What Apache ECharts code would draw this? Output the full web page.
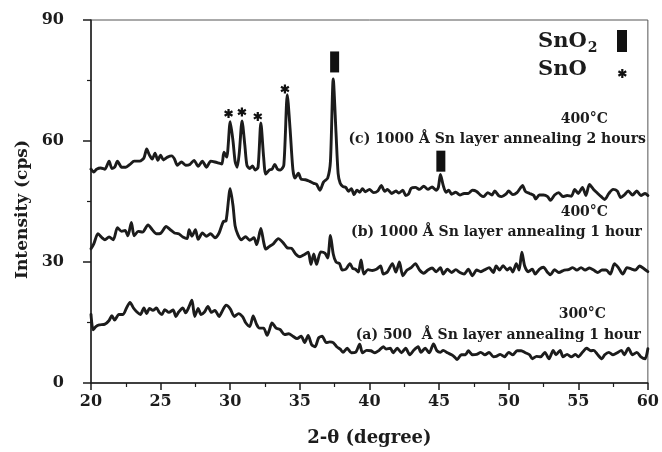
<!DOCTYPE html>
<html>
<head>
<meta charset="utf-8">
<script src="https://cdn.jsdelivr.net/npm/echarts@6/dist/echarts.min.js"></script>
<style>html,body{margin:0;padding:0;background:#fff}#chart{width:662px;height:452px}</style>
</head>
<body>
<div id="chart"></div>
<script>
// ---- data ----
const xTicks = [20, 25, 30, 35, 40, 45, 50, 55, 60];
const yTicks = [0, 30, 60, 90];

const xC = [20.0,20.2,20.4,20.7,21.0,21.3,21.5,21.7,21.9,22.2,22.5,22.8,23.1,23.5,23.8,24.0,24.2,24.4,24.6,24.8,25.0,25.2,25.5,25.8,26.0,26.2,26.5,26.8,27.1,27.4,27.7,28.0,28.3,28.6,28.9,29.2,29.4,29.55,29.75,30.0,30.2,30.35,30.5,30.65,30.85,31.05,31.2,31.4,31.6,31.8,32.0,32.2,32.4,32.55,32.8,33.0,33.2,33.4,33.6,33.85,34.1,34.3,34.5,34.65,34.9,35.1,35.4,35.7,36.0,36.2,36.45,36.7,37.0,37.2,37.4,37.6,37.75,37.9,38.1,38.3,38.5,38.7,38.9,39.1,39.3,39.5,39.7,40.0,40.3,40.6,40.85,41.1,41.3,41.6,41.9,42.1,42.4,42.6,42.8,43.0,43.3,43.6,43.9,44.2,44.5,44.8,44.95,45.1,45.3,45.5,45.7,45.9,46.2,46.5,46.8,47.1,47.4,47.7,48.0,48.2,48.5,48.8,49.0,49.3,49.5,49.8,50.0,50.3,50.6,50.85,51.0,51.2,51.5,51.8,51.95,52.2,52.5,52.8,53.0,53.3,53.6,53.9,54.2,54.5,54.75,55.0,55.3,55.55,55.8,56.1,56.4,56.65,56.9,57.2,57.5,57.8,58.05,58.3,58.6,58.9,59.2,59.5,59.8,60.0];
const yC = [53,52.3,53,53.3,53,55,53.2,53.5,55,53.5,53.5,54.2,55,55,55.8,58,56.5,55.5,57,55.2,56.5,55.3,56,56.3,55.5,54,54.8,54,54.2,55.2,53.7,55,53.5,55,54.8,54.5,54.3,57.2,56,64.8,60,55,53.5,57,65,59,54,53.2,53.8,52.8,53.5,64.5,56,51.8,52.8,53,54.2,53,52.8,54,71.5,63,53,50.8,52,50.5,50.4,50,49.5,49.3,47.8,49.8,50.8,55,75.4,62,52,49.5,48.7,48.5,47.5,48.2,46.7,47.8,47.3,48.2,47.4,48,47.2,47.6,49,47.5,48,47,47.6,47.1,47.8,46.5,46.8,48.3,48.5,48,48.8,48,48.6,47.8,48.5,51.7,49,47.3,47.8,46.8,47.3,46.6,47,47,47.8,47.5,46.5,46.2,47.2,46.6,47.6,46.4,46.2,46.8,47.6,46.7,47.2,48.4,49,47.5,47,46.5,45.6,46.6,46.6,46.2,45.3,46.6,47.2,46.2,46.5,46.3,48,47,48.5,46.5,49.2,48,47,46.2,45.5,47,48,47.6,46,46.6,47.6,46.6,47.6,46.5,47,46.5];

const xB = [20.0,20.2,20.5,20.8,21.0,21.3,21.6,21.9,22.2,22.45,22.65,22.9,23.1,23.4,23.7,24.1,24.4,24.7,25.0,25.4,25.7,26.0,26.3,26.6,26.9,27.05,27.25,27.5,27.7,28.0,28.3,28.6,28.9,29.2,29.5,29.7,30.0,30.2,30.35,30.55,30.8,31.1,31.4,31.7,31.9,32.2,32.4,32.55,32.8,33.1,33.45,33.8,34.1,34.4,34.7,35.0,35.3,35.6,35.8,36.0,36.2,36.5,36.8,37.0,37.2,37.4,37.6,37.85,38.05,38.3,38.6,38.8,39.0,39.2,39.4,39.6,39.9,40.2,40.5,40.8,41.0,41.3,41.65,41.9,42.15,42.4,42.7,43.0,43.3,43.6,43.9,44.2,44.5,44.8,45.1,45.3,45.6,45.9,46.2,46.5,46.8,47.1,47.4,47.7,48.0,48.3,48.6,48.9,49.1,49.35,49.6,49.9,50.1,50.3,50.55,50.75,50.95,51.15,51.4,51.7,51.9,52.2,52.5,52.8,53.0,53.3,53.6,54.0,54.3,54.6,54.9,55.2,55.5,55.8,56.1,56.4,56.7,57.0,57.3,57.6,57.9,58.2,58.5,58.8,59.1,59.4,59.7,60.0];
const yB = [33.3,34.5,37,36,35.5,36.2,35.5,38.5,37.6,37.8,36.5,39.8,36.5,37.6,37.4,39.2,38,37,37.1,38.8,38,37.2,37,36.2,35.8,38,36.4,38,35.6,37.2,36.4,37,36,37.2,40,40.2,48.2,44,39,36.8,35.5,36.3,35.4,36,34.3,38.3,35,33.2,33.8,34.5,35.8,34.8,33.5,33.4,32,31.3,31.8,32.4,29.4,32,29.4,32.5,32.2,31,36.6,32,30,29.6,28,28.2,29.6,28.4,28.2,27.5,30.5,27,28.1,27.9,28.2,29,27,27.6,29.6,27.5,30,26.6,28,28.6,29.6,28,27.2,28,28.5,27.6,28.6,27,28.2,27.4,28.1,27.4,27,28.2,26.6,28,27.6,28.1,28.6,27.4,29,28,29.1,28,28.6,27.5,29.6,28,32.4,29,27.6,28.2,27,28.2,28.7,27.4,26.8,28.1,27.4,28,28.1,28.6,28,28.6,28,28.5,28,27.4,28,28,27,29.6,28.5,27,28.6,28.3,28,29,28.4,27.6];

const xA = [20.0,20.15,20.35,20.6,21.0,21.3,21.5,21.7,22.0,22.3,22.55,22.8,23.05,23.3,23.55,23.8,24.0,24.2,24.45,24.7,24.9,25.1,25.3,25.6,25.9,26.1,26.3,26.6,26.8,27.0,27.25,27.45,27.7,27.9,28.15,28.4,28.65,28.9,29.2,29.45,29.7,30.0,30.3,30.6,30.9,31.1,31.4,31.65,31.9,32.1,32.4,32.65,32.8,33.0,33.3,33.6,33.9,34.2,34.5,34.8,35.1,35.35,35.6,35.85,36.1,36.35,36.6,36.9,37.15,37.4,37.65,37.9,38.1,38.4,38.7,39.0,39.3,39.5,39.8,40.1,40.4,40.7,41.0,41.2,41.5,41.7,42.0,42.3,42.6,42.9,43.2,43.5,43.7,44.0,44.3,44.6,44.85,45.1,45.3,45.6,45.9,46.1,46.3,46.6,46.9,47.1,47.4,47.7,48.0,48.3,48.6,48.9,49.1,49.4,49.7,50.0,50.3,50.6,50.9,51.2,51.5,51.7,52.0,52.3,52.6,52.9,53.2,53.4,53.7,53.9,54.2,54.5,54.8,55.0,55.3,55.6,55.9,56.1,56.4,56.7,56.9,57.2,57.5,57.8,58.1,58.3,58.6,58.9,59.2,59.5,59.8,60.0];
const yA = [17,13.2,14,14.4,14.6,15.5,16.7,15.6,17,17,18.6,20,18.6,17.6,17,18.6,17.2,18.5,18,18.6,17.5,17,18.2,17.5,18.1,16.5,17.6,18.6,17.4,18.6,20.5,16.5,18.5,17,17.6,19,17.5,18,16.5,18,19.3,18.4,16.5,17.2,16.4,15,14,16.6,14.5,13.6,13.6,11.8,13,14.9,13.6,13.2,12,12.2,11.6,11,11.6,10,11.8,9.5,9,11.2,11.6,10,10.2,10,9,8.4,7.6,8.6,7.5,7.6,9.6,7.5,8.1,8,7.5,8.1,9,8.4,8.6,7.5,8.6,7.5,8.6,7,8.2,9,7.6,8.6,7.5,9.7,8,7.6,8.1,7.5,7,6.5,5.8,7,7,8,7,7.1,7.6,7,7.6,6.5,6.6,7.1,6.5,7.6,7,8,8,7.5,7,6,6.6,6.5,7.6,6,8.1,7,8.1,6.5,7.1,6.5,7.1,6.5,7.6,8.6,8,8.1,7,6,7,7.6,7,7.5,8.1,7,8.6,7,7.6,6.5,6,8.5];

// peak markers
const sno2X = [37.5, 45.13];
const sno2Y = [79.6, 55.0];
const snoX = [29.88, 30.84, 31.98, 33.93];
const snoY = [66.8, 67.2, 66.1, 72.9];

const labels = [
  {temp: '400°C', text: '(c) 1000 Å Sn layer annealing 2 hours'},
  {temp: '400°C', text: '(b) 1000 Å Sn layer annealing 1 hour'},
  {temp: '300°C', text: '(a) 500  Å Sn layer annealing 1 hour'}
];

// ---- chart ----
const FONT = 'DejaVu Serif';
const INK = '#1c1c1c';
// six-armed asterisk glyph: three filled bars in a 10x10 box, same winding
const STAR_BARS = [
  [[3.9, 0.5], [6.1, 0.5], [6.1, 9.5], [3.9, 9.5]],
  [[8.347, 8.203], [0.553, 3.703], [1.653, 1.797], [9.447, 6.297]],
  [[9.447, 3.703], [1.653, 8.203], [0.553, 6.297], [8.347, 1.797]]
];
const STAR = STAR_BARS.map(b => 'M' + b.map(p => p[0] + ',' + p[1]).join(' L') + ' Z').join(' ');
const pairs = (xs, ys) => xs.map((x, i) => [x, ys[i]]);
const lineSeries = (xs, ys) => ({
  type: 'line', data: pairs(xs, ys), showSymbol: false, smooth: 0.25,
  lineStyle: {color: INK, width: 2.9, join: 'round', cap: 'round'},
  emphasis: {disabled: true}, z: 3
});

const chart = echarts.init(document.getElementById('chart'), null, {renderer: 'canvas'});
const txt = (text, x, y, size, align) => ({
  type: 'text', x: x, y: y, z: 10,
  style: {text: text, font: 'bold ' + size + 'px "' + FONT + '"', fill: INK, align: align || 'right', verticalAlign: 'middle'}
});
const legendStar = STAR_BARS.map(b => ({
  type: 'polygon', x: 617.3, y: 68.5, z: 10,
  shape: {points: b}, style: {fill: '#111'}
}));

chart.setOption({
  animation: false,
  backgroundColor: '#fff',
  grid: {left: 91, right: 11, top: 20, bottom: 68, show: true, borderColor: '#555', borderWidth: 1},
  xAxis: {
    type: 'value', min: xTicks[0], max: xTicks[xTicks.length - 1], interval: 5,
    name: '2-θ (degree)', nameLocation: 'middle', nameGap: 46,
    nameTextStyle: {fontFamily: FONT, fontWeight: 'bold', fontSize: 18, color: INK},
    axisLine: {show: true, lineStyle: {color: INK, width: 1.5}},
    axisTick: {show: true, length: 7, lineStyle: {color: INK, width: 1.5}},
    minorTick: {show: true, splitNumber: 2, length: 4, lineStyle: {color: INK, width: 1.2}},
    axisLabel: {fontFamily: FONT, fontWeight: 'bold', fontSize: 16, color: INK, margin: 11},
    splitLine: {show: false}
  },
  yAxis: {
    type: 'value', min: yTicks[0], max: yTicks[yTicks.length - 1], interval: 30,
    name: 'Intensity (cps)', nameLocation: 'middle', nameGap: 57,
    nameTextStyle: {fontFamily: FONT, fontWeight: 'bold', fontSize: 17, color: INK, padding: [0, 16, 0, 0]},
    axisLine: {show: true, lineStyle: {color: INK, width: 1.5}},
    axisTick: {show: true, length: 8, lineStyle: {color: INK, width: 1.5}},
    minorTick: {show: true, splitNumber: 2, length: 4, lineStyle: {color: INK, width: 1.2}},
    axisLabel: {fontFamily: FONT, fontWeight: 'bold', fontSize: 16, color: INK, margin: 27},
    splitLine: {show: false}
  },
  series: [
    lineSeries(xA, yA),
    lineSeries(xB, yB),
    lineSeries(xC, yC),
    {
      type: 'scatter', data: pairs(sno2X, sno2Y), symbol: 'rect', symbolSize: [9, 21],
      itemStyle: {color: '#111', opacity: 1}, emphasis: {disabled: true}, z: 5
    },
    {
      type: 'scatter', data: pairs(snoX, snoY), symbol: 'path://' + STAR, symbolSize: 9,
      itemStyle: {color: '#111', opacity: 1}, emphasis: {disabled: true}, z: 5
    }
  ],
  graphic: [
    txt(labels[0].temp, 608, 119, 14), txt(labels[0].text, 646, 139, 14),
    txt(labels[1].temp, 608, 212, 14), txt(labels[1].text, 642, 232, 14),
    txt(labels[2].temp, 606, 314, 14), txt(labels[2].text, 641, 335, 14),
    {
      type: 'text', x: 538, y: 42, z: 10,
      style: {
        text: '{m|SnO}{s|2}', verticalAlign: 'middle', align: 'left',
        rich: {
          m: {font: 'bold 21px "' + FONT + '"', fill: INK},
          s: {font: 'bold 14px "' + FONT + '"', fill: INK, padding: [12, 0, 0, 1]}
        }
      }
    },
    txt('SnO', 538, 70, 21, 'left'),
    {type: 'rect', z: 10, shape: {x: 617, y: 30, width: 10, height: 22}, style: {fill: '#111'}}
  ].concat(legendStar)
});
</script>
</body>
</html>
